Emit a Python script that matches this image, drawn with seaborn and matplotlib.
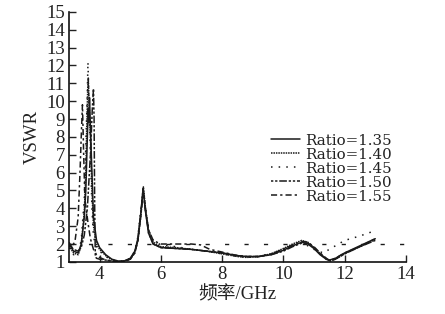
import matplotlib
matplotlib.use("Agg")
import matplotlib.pyplot as plt
import seaborn as sns
import pandas as pd

sns.set_theme(style="ticks")
plt.rcParams['font.family'] = ['Liberation Serif', 'Noto Sans CJK SC', 'DejaVu Sans']
plt.rcParams['axes.unicode_minus'] = False

ratios = ["Ratio=1.35", "Ratio=1.40", "Ratio=1.45", "Ratio=1.50", "Ratio=1.55"]

f_135 = [3.0, 3.15, 3.3, 3.4, 3.5, 3.55, 3.6, 3.63, 3.65, 3.67, 3.7, 3.75, 3.8, 3.9, 4.0, 4.2, 4.4, 4.6, 4.8, 5.0, 5.15, 5.25, 5.35, 5.42, 5.5, 5.6, 5.75, 6.0, 6.5, 7.0, 7.5, 8.0, 8.5, 8.8, 9.2, 9.6, 10.0, 10.3, 10.6, 10.8, 11.0, 11.2, 11.4, 11.5, 11.7, 12.0, 12.5, 13.0]
v_135 = [2.0, 1.6, 1.5, 2.0, 3.5, 5.0, 8.0, 9.6, 8.8, 10.2, 8.5, 6.0, 3.5, 2.2, 1.8, 1.4, 1.15, 1.05, 1.05, 1.2, 1.6, 2.3, 3.8, 5.1, 3.8, 2.6, 2.0, 1.8, 1.75, 1.7, 1.6, 1.5, 1.35, 1.3, 1.3, 1.4, 1.65, 1.9, 2.1, 2.0, 1.75, 1.4, 1.15, 1.1, 1.2, 1.5, 1.9, 2.3]

f_140 = [3.0, 3.15, 3.3, 3.4, 3.5, 3.55, 3.58, 3.61, 3.63, 3.66, 3.7, 3.75, 3.8, 3.9, 4.0, 4.2, 4.4, 4.6, 4.8, 5.0, 5.15, 5.25, 5.35, 5.43, 5.5, 5.6, 5.75, 6.0, 6.5, 7.0, 7.5, 8.0, 8.5, 8.8, 9.2, 9.6, 10.0, 10.3, 10.6, 10.8, 11.0, 11.2, 11.4, 11.5, 11.7, 12.0, 12.5, 13.0]
v_140 = [1.9, 1.5, 1.4, 1.9, 3.8, 6.0, 8.5, 10.5, 11.3, 9.8, 8.0, 5.0, 3.0, 2.0, 1.7, 1.35, 1.1, 1.0, 1.05, 1.15, 1.5, 2.2, 3.6, 5.2, 4.0, 2.7, 2.1, 1.85, 1.8, 1.7, 1.6, 1.45, 1.3, 1.25, 1.3, 1.45, 1.75, 2.0, 2.2, 2.1, 1.8, 1.45, 1.2, 1.05, 1.15, 1.45, 1.85, 2.25]

f_145 = [3.0, 3.15, 3.3, 3.4, 3.5, 3.55, 3.6, 3.62, 3.65, 3.7, 3.75, 3.8, 3.9, 4.0, 4.2, 4.4, 4.6, 4.8, 5.0, 5.15, 5.25, 5.35, 5.42, 5.5, 5.6, 5.75, 6.0, 6.5, 7.0, 7.5, 8.0, 8.5, 8.8, 9.2, 9.6, 10.0, 10.3, 10.6, 10.8, 11.0, 11.3, 11.6, 12.0, 12.5, 13.0]
v_145 = [1.8, 1.4, 1.5, 2.2, 4.5, 7.5, 10.5, 12.2, 10.0, 7.0, 4.0, 2.4, 1.8, 1.6, 1.3, 1.1, 1.05, 1.05, 1.2, 1.6, 2.4, 4.0, 5.0, 3.9, 2.8, 2.2, 1.95, 1.85, 1.7, 1.6, 1.45, 1.3, 1.25, 1.3, 1.45, 1.7, 1.9, 2.1, 1.9, 1.7, 1.5, 1.8, 2.2, 2.45, 2.75]

f_150 = [3.0, 3.15, 3.3, 3.4, 3.5, 3.6, 3.7, 3.76, 3.8, 3.82, 3.84, 3.86, 3.9, 4.0, 4.2, 4.4, 4.6, 4.8, 5.0, 5.15, 5.25, 5.35, 5.42, 5.5, 5.6, 5.75, 6.0, 6.5, 7.0, 7.5, 8.0, 8.5, 8.8, 9.2, 9.6, 10.0, 10.3, 10.6, 10.8, 11.0, 11.2, 11.4, 11.55, 11.7, 12.0, 12.5, 13.0]
v_150 = [2.0, 1.7, 1.6, 1.8, 2.5, 4.0, 7.0, 9.5, 10.7, 9.0, 4.0, 1.3, 1.2, 1.15, 1.1, 1.05, 1.0, 1.05, 1.15, 1.55, 2.2, 3.7, 5.1, 3.9, 2.6, 2.0, 1.8, 1.75, 1.7, 1.6, 1.5, 1.35, 1.3, 1.3, 1.4, 1.6, 1.85, 2.05, 2.05, 1.8, 1.45, 1.15, 1.05, 1.15, 1.45, 1.85, 2.2]

f_155 = [3.0, 3.1, 3.2, 3.3, 3.36, 3.4, 3.44, 3.48, 3.52, 3.56, 3.62, 3.7, 3.8, 3.9, 4.0, 4.2, 4.4, 4.6, 4.8, 5.0, 5.15, 5.25, 5.35, 5.42, 5.5, 5.6, 5.75, 6.0, 6.5, 7.0, 7.3, 7.6, 8.0, 8.5, 8.8, 9.2, 9.6, 10.0, 10.3, 10.6, 10.8, 11.0, 11.2, 11.4, 11.5, 11.7, 12.0, 12.5, 13.0]
v_155 = [2.1, 1.8, 2.2, 3.5, 6.0, 8.0, 9.8, 7.0, 4.5, 4.0, 3.2, 2.3, 1.7, 1.4, 1.25, 1.1, 1.05, 1.0, 1.0, 1.15, 1.5, 2.2, 3.7, 4.9, 3.9, 2.8, 2.2, 2.0, 2.0, 2.0, 1.95, 1.7, 1.55, 1.35, 1.3, 1.3, 1.45, 1.7, 1.95, 2.15, 2.1, 1.85, 1.5, 1.2, 1.1, 1.2, 1.5, 1.85, 2.3]

freqs = [f_135, f_140, f_145, f_150, f_155]
vswrs = [v_135, v_140, v_145, v_150, v_155]

rows = []
for name, fs, vs in zip(ratios, freqs, vswrs):
    for i, (f, v) in enumerate(zip(fs, vs)):
        rows.append({"freq": f, "vswr": v, "Ratio": name, "order": i})
df = pd.DataFrame(rows)

dash_map = {
    "Ratio=1.35": "",
    "Ratio=1.40": (1, 0.6),
    "Ratio=1.45": (1, 4),
    "Ratio=1.50": (1.5, 1.2, 1.5, 1.2, 5, 1.2),
    "Ratio=1.55": (4, 2, 1.5, 2),
}

fig = plt.figure(figsize=(4.45, 3.14), dpi=100)
ax = fig.add_axes([0.155, 0.166, 0.757, 0.796])

sns.lineplot(data=df, x="freq", y="vswr", style="Ratio", dashes=dash_map,
             color="#1a1a1a", linewidth=1.1, sort=False, estimator=None,
             units="Ratio", ax=ax, legend=True)

ax.axhline(2, color="#1a1a1a", linewidth=1.0, linestyle=(0, (3, 11)))

ax.set_xlim(3, 14)
ax.set_ylim(1, 15)
ax.set_xticks([4, 6, 8, 10, 12, 14])
ax.set_yticks(range(1, 16))
ax.tick_params(axis="both", direction="in", length=5, width=1.0, labelsize=13.5,
               colors="#222222", pad=3)
for s in ["top", "right"]:
    ax.spines[s].set_visible(False)
for s in ["left", "bottom"]:
    ax.spines[s].set_linewidth(1.2)
    ax.spines[s].set_color("#111111")

ax.set_xlabel("频率/GHz", fontsize=13.5, color="#222222", labelpad=2)
ax.set_ylabel("VSWR", fontsize=13.5, color="#222222", labelpad=4)

handles, labels = ax.get_legend_handles_labels()
leg = ax.legend(handles, labels, loc="upper left", bbox_to_anchor=(0.6, 0.513),
                frameon=False, handlelength=1.9, handletextpad=0.4,
                labelspacing=0.0, borderaxespad=0, borderpad=0,
                prop={"family": ["DejaVu Serif"], "size": 10.8})
for t in leg.get_texts():
    t.set_color("#222222")

fig.savefig("out.png", dpi=100)
